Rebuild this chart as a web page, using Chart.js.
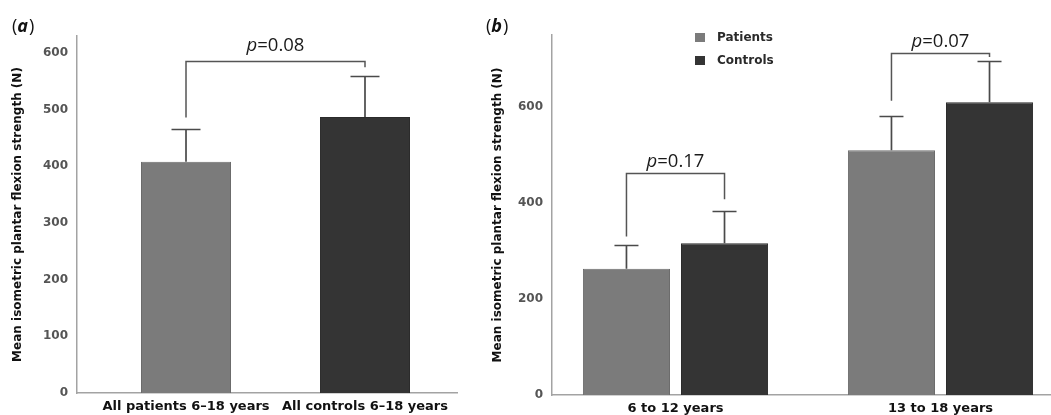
<!DOCTYPE html>
<html><head><meta charset="utf-8">
<script src="https://cdn.jsdelivr.net/npm/chart.js@4/dist/chart.umd.min.js"></script>
<style>
html,body{margin:0;padding:0;background:#fff;overflow:hidden}
#wrap{position:relative;width:1051px;height:415px;background:#fff}
#ca{position:absolute;left:0;top:0}
#cb{position:absolute;left:470px;top:0}
</style></head><body>
<div id="wrap">
<canvas id="ca" width="470" height="415"></canvas>
<canvas id="cb" width="581" height="415"></canvas>
</div>
<script>
// ---------- DATA ----------
const catsA = ['All patients 6\u201318 years', 'All controls 6\u201318 years'];
const meanA = [408, 487];
const upperA = [466, 560];
const bracketRefsA = [[[0, 0], [0, 1]]];
const bracketTopA = [586];
const bracketEndsA = [[486, 575]];
const pLabelsA = ['0.08'];
const yTicksA = [0, 100, 200, 300, 400, 500, 600];

const catsB = ['6 to 12 years', '13 to 18 years'];
const seriesNamesB = ['Patients', 'Controls'];
const patientsB = [263, 510];
const patientsUpperB = [312, 581];
const controlsB = [316, 610];
const controlsUpperB = [383, 696];
const bracketRefsB = [[[0, 0], [1, 0]], [[0, 1], [1, 1]]];
const bracketTopB = [463, 713];
const bracketEndsB = [[330, 408], [613, 704]];
const pLabelsB = ['0.17', '0.07'];
const yTicksB = [0, 200, 400, 600];

const yTitle = 'Mean isometric plantar flexion strength (N)';

// ---------- STYLE ----------
const colPat = '#7b7b7b', edgePat = '#6c6c6c';
const colCon = '#343434', edgeCon = '#2b2b2b';
const axisCol = '#a3a3a3';
const tickCol = '#555555';
const errCol = '#4a4a4a';
const brCol = '#555555';
const FONT = '"DejaVu Sans", sans-serif';

// ---------- PLUGINS ----------
const errorBarsPlugin = {
  id: 'errorBars',
  afterDatasetsDraw(chart, args, opts) {
    const ctx = chart.ctx, y = chart.scales.y;
    ctx.save();
    ctx.strokeStyle = errCol; ctx.lineWidth = 1.7;
    opts.uppers.forEach((ups, di) => {
      const meta = chart.getDatasetMeta(di);
      meta.data.forEach((el, i) => {
        const yt = Math.round(y.getPixelForValue(ups[i])) + 0.5;
        ctx.beginPath();
        ctx.moveTo(el.x, el.y); ctx.lineTo(el.x, yt);
        ctx.moveTo(el.x - opts.cap / 2, yt); ctx.lineTo(el.x + opts.cap / 2, yt);
        ctx.stroke();
      });
    });
    ctx.restore();
  }
};

const bracketPlugin = {
  id: 'brackets',
  afterDatasetsDraw(chart, args, opts) {
    const ctx = chart.ctx, y = chart.scales.y;
    ctx.save();
    opts.refs.forEach((ref, k) => {
      const e1 = chart.getDatasetMeta(ref[0][0]).data[ref[0][1]];
      const e2 = chart.getDatasetMeta(ref[1][0]).data[ref[1][1]];
      const yt = Math.round(y.getPixelForValue(opts.tops[k])) + 0.5;
      const y1 = y.getPixelForValue(opts.ends[k][0]);
      const y2 = y.getPixelForValue(opts.ends[k][1]);
      ctx.strokeStyle = brCol; ctx.lineWidth = 1.5;
      ctx.beginPath();
      ctx.moveTo(e1.x, y1); ctx.lineTo(e1.x, yt); ctx.lineTo(e2.x, yt); ctx.lineTo(e2.x, y2);
      ctx.stroke();
      const fs = opts.fontSize;
      const italic = 'italic ' + fs + 'px "Open Sans", sans-serif';
      const normal = fs + 'px "Open Sans", sans-serif';
      ctx.font = italic; const w1 = ctx.measureText('p').width;
      ctx.font = normal; const w2 = ctx.measureText('=' + opts.labels[k]).width;
      const cx = (e1.x + e2.x) / 2;
      const x0 = cx - (w1 + w2) / 2;
      const by = yt - opts.gap;
      ctx.fillStyle = '#1a1a1a'; ctx.textBaseline = 'alphabetic'; ctx.textAlign = 'left';
      ctx.font = italic; ctx.fillText('p', x0, by);
      ctx.font = normal; ctx.fillText('=' + opts.labels[k], x0 + w1, by);
    });
    ctx.restore();
  }
};

const panelLabelPlugin = {
  id: 'panelLabel',
  afterDraw(chart, args, opts) {
    const ctx = chart.ctx;
    ctx.save();
    ctx.fillStyle = '#111'; ctx.textBaseline = 'alphabetic'; ctx.textAlign = 'left';
    let x = opts.x;
    const n = '18px "Open Sans", sans-serif', b = 'italic bold 18px "Open Sans", sans-serif';
    ctx.font = n; ctx.fillText('(', x, opts.y); x += ctx.measureText('(').width;
    ctx.font = b; ctx.fillText(opts.text, x, opts.y); x += ctx.measureText(opts.text).width + 1;
    ctx.font = n; ctx.fillText(')', x, opts.y);
    ctx.restore();
  }
};

const legendPlugin = {
  id: 'boxLegend',
  afterDraw(chart, args, opts) {
    if (!opts.show) return;
    const ctx = chart.ctx;
    ctx.save();
    ctx.font = 'bold 12px ' + FONT; ctx.textBaseline = 'middle'; ctx.textAlign = 'left';
    chart.data.datasets.forEach((ds, i) => {
      const yy = opts.y + i * 23;
      ctx.fillStyle = ds.backgroundColor;
      ctx.fillRect(opts.x, yy, 10, 9);
      ctx.fillStyle = '#2a2a2a';
      ctx.fillText(ds.label, opts.x + 22, yy + 4.5);
    });
    ctx.restore();
  }
};

function yScale(max, ticks, titlePadTop, width) {
  return {
    min: 0, max: max,
    grid: { display: false, drawTicks: false },
    border: { display: true, color: axisCol, width: 1.5 },
    ticks: { stepSize: ticks[1] - ticks[0], includeBounds: false, padding: 9,
             color: tickCol, font: { family: FONT, size: 12, weight: 'bold' } },
    afterBuildTicks: s => { s.ticks = ticks.map(v => ({ value: v })); },
    title: { display: true, text: yTitle, color: '#111',
             font: { family: FONT, size: 12, weight: 'bold' },
             padding: { top: titlePadTop, bottom: 0 } },
    afterFit: s => { s.width = width; }
  };
}

function xScale(cats, min, max, height) {
  return {
    type: 'linear', min: min, max: max, offset: false,
    grid: { display: false, drawTicks: false },
    border: { display: true, color: axisCol, width: 1.5 },
    ticks: { autoSkip: false, maxRotation: 0, padding: 6, color: '#111',
             font: { family: FONT, size: 13, weight: 'bold' },
             callback: v => cats[v] },
    afterBuildTicks: s => { s.ticks = cats.map((c, i) => ({ value: i })); },
    afterFit: s => { s.height = height; }
  };
}

// ---------- CHART A ----------
new Chart(document.getElementById('ca'), {
  type: 'bar',
  data: {
    datasets: [{
      label: 'All',
      data: catsA.map((c, i) => ({ x: i, y: meanA[i] })),
      backgroundColor: [colPat, colCon],
      borderColor: [edgePat, edgeCon],
      borderWidth: 1,
      categoryPercentage: 1,
      barPercentage: 0.503
    }]
  },
  options: {
    responsive: false, animation: false, events: [],
    layout: { padding: { top: 36, right: 13, left: 0, bottom: 0 } },
    plugins: {
      legend: { display: false }, tooltip: { enabled: false },
      errorBars: { uppers: [upperA], cap: 29 },
      brackets: { refs: bracketRefsA, tops: bracketTopA, ends: bracketEndsA, labels: pLabelsA, fontSize: 18.5, gap: 11 },
      panelLabel: { text: 'a', x: 12, y: 32 },
      boxLegend: { show: false }
    },
    scales: {
      x: xScale(catsA, -0.609, 1.514, 22),
      y: yScale(630, yTicksA, 10.5, 77)
    }
  },
  plugins: [errorBarsPlugin, bracketPlugin, panelLabelPlugin, legendPlugin]
});

// ---------- CHART B ----------
new Chart(document.getElementById('cb'), {
  type: 'bar',
  data: {
    datasets: [
      { label: seriesNamesB[0], data: catsB.map((c, i) => ({ x: i, y: patientsB[i] })),
        backgroundColor: colPat, borderColor: edgePat, borderWidth: 1,
        categoryPercentage: 0.74, barPercentage: 0.888 },
      { label: seriesNamesB[1], data: catsB.map((c, i) => ({ x: i, y: controlsB[i] })),
        backgroundColor: colCon, borderColor: edgeCon, borderWidth: 1,
        categoryPercentage: 0.74, barPercentage: 0.888 }
    ]
  },
  options: {
    responsive: false, animation: false, events: [],
    layout: { padding: { top: 35, right: 0, left: 0, bottom: 0 } },
    plugins: {
      legend: { display: false }, tooltip: { enabled: false },
      errorBars: { uppers: [patientsUpperB, controlsUpperB], cap: 24 },
      brackets: { refs: bracketRefsB, tops: bracketTopB, ends: bracketEndsB, labels: pLabelsB, fontSize: 18.5, gap: 7 },
      panelLabel: { text: 'b', x: 16, y: 32 },
      boxLegend: { show: true, x: 225, y: 33 }
    },
    scales: {
      x: xScale(catsB, -0.466, 1.417, 20),
      y: yScale(750, yTicksB, 20.5, 82)
    }
  },
  plugins: [errorBarsPlugin, bracketPlugin, panelLabelPlugin, legendPlugin]
});
</script>
</body></html>
